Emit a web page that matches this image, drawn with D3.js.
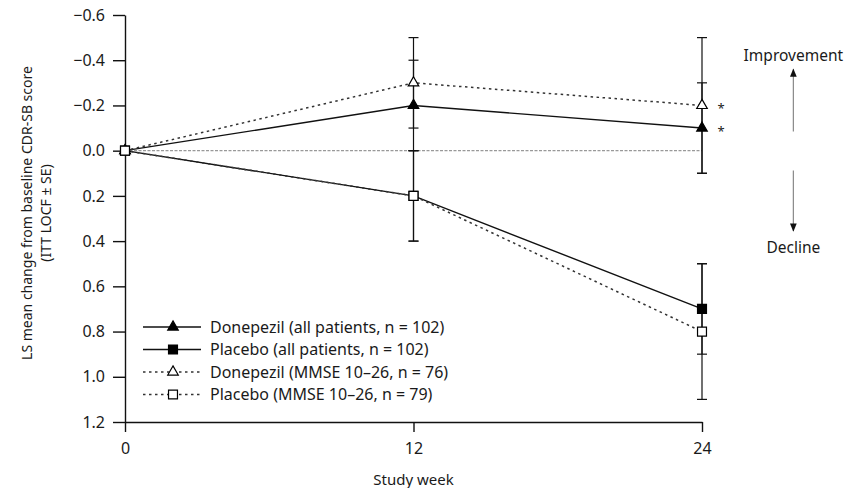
<!DOCTYPE html>
<html>
<head>
<meta charset="utf-8">
<script src="https://cdn.jsdelivr.net/npm/d3@7"></script>
<style>
  body { margin: 0; background: #fff; }
  text { font-family: "Noto Sans", sans-serif; fill: #1a1a1a; }
</style>
</head>
<body>
<svg id="chart" width="854" height="488"></svg>
<script>
// Study weeks on the x axis
const weeks = [0, 12, 24];

// LS mean change from baseline CDR-SB (negative = improvement)
const donepezilAll = [0, -0.2, -0.1];
const donepezilAllSE = [0, 0.2, 0.2];
const placeboAll = [0, 0.2, 0.7];
const placeboAllSE = [0, 0.2, 0.2];
const donepezilMmse = [0, -0.3, -0.2];
const donepezilMmseSE = [0, 0.2, 0.3];
const placeboMmse = [0, 0.2, 0.8];
const placeboMmseSE = [0, 0.2, 0.3];

const seriesNames = [
  "Donepezil (all patients, n = 102)",
  "Placebo (all patients, n = 102)",
  "Donepezil (MMSE 10\u201326, n = 76)",
  "Placebo (MMSE 10\u201326, n = 79)"
];
const yTicks = [-0.6, -0.4, -0.2, 0.0, 0.2, 0.4, 0.6, 0.8, 1.0, 1.2];
const significant = [donepezilMmse[2], donepezilAll[2]]; // asterisks at week 24

// series table built from the arrays above
const series = [
  { name: seriesNames[0], values: donepezilAll, se: donepezilAllSE, shape: d3.symbolTriangle, filled: true, dashed: false },
  { name: seriesNames[1], values: placeboAll, se: placeboAllSE, shape: d3.symbolSquare, filled: true, dashed: false },
  { name: seriesNames[2], values: donepezilMmse, se: donepezilMmseSE, shape: d3.symbolTriangle, filled: false, dashed: true },
  { name: seriesNames[3], values: placeboMmse, se: placeboMmseSE, shape: d3.symbolSquare, filled: false, dashed: true }
];

const svg = d3.select("#chart");

const x = d3.scaleLinear().domain([0, 24]).range([125, 702]);
const y = d3.scaleLinear().domain([-0.6, 1.2]).range([15, 422]);

// axes
const xAxis = svg.append("g")
  .attr("transform", `translate(0,${y(1.2)})`)
  .call(d3.axisBottom(x).tickValues(weeks).tickSize(10).tickSizeOuter(0).tickPadding(11));

const yAxis = svg.append("g")
  .attr("transform", `translate(${x(0)},0)`)
  .call(d3.axisLeft(y).tickValues(yTicks).tickSize(12).tickSizeOuter(0).tickPadding(8)
    .tickFormat(d3.format(".1f")));

[xAxis, yAxis].forEach(a => {
  a.selectAll("path, line").attr("stroke", "#111").attr("stroke-width", 1.4);
  a.selectAll("text").style("font-size", "16px").attr("fill", "#1a1a1a");
});

// axis titles
svg.append("text")
  .attr("x", x(12)).attr("y", 485)
  .attr("text-anchor", "middle")
  .style("font-size", "15px")
  .text("Study week");

const yTitle = svg.append("g").attr("transform", "translate(0,213) rotate(-90)");
yTitle.append("text").attr("x", 0).attr("y", 32)
  .attr("text-anchor", "middle").style("font-size", "14px")
  .text("LS mean change from baseline CDR-SB score");
yTitle.append("text").attr("x", 0).attr("y", 51)
  .attr("text-anchor", "middle").style("font-size", "14px")
  .text("(ITT LOCF \u00b1 SE)");

// zero reference line
svg.append("line")
  .attr("x1", x(0)).attr("x2", x(24))
  .attr("y1", y(0)).attr("y2", y(0))
  .attr("stroke", "#999").attr("stroke-width", 1.2)
  .attr("stroke-dasharray", "3,1.5");

// error bars
const capW = 5;
series.forEach(s => {
  weeks.forEach((w, i) => {
    if (!s.se[i]) return;
    const g = svg.append("g").attr("stroke", "#111").attr("stroke-width", 1.2);
    const lo = s.values[i] - s.se[i], hi = s.values[i] + s.se[i];
    g.append("line").attr("x1", x(w)).attr("x2", x(w)).attr("y1", y(lo)).attr("y2", y(hi));
    [lo, hi].forEach(v => g.append("line")
      .attr("x1", x(w) - capW).attr("x2", x(w) + capW)
      .attr("y1", y(v)).attr("y2", y(v)));
  });
});

// lines
const line = d3.line().x((d, i) => x(weeks[i])).y(d => y(d));
series.forEach(s => {
  svg.append("path")
    .datum(s.values)
    .attr("d", line)
    .attr("fill", "none")
    .attr("stroke", s.dashed ? "#333" : "#111")
    .attr("stroke-width", s.dashed ? 1.5 : 1.4)
    .attr("stroke-dasharray", s.dashed ? "2.5,3.5" : null);
});

// markers (filled first, open on top)
const sym = (shape) => d3.symbol().type(shape).size(shape === d3.symbolTriangle ? 48 : 80)();
series.forEach(s => {
  svg.append("g").selectAll("path")
    .data(s.values)
    .join("path")
    .attr("d", sym(s.shape))
    .attr("transform", (d, i) => `translate(${x(weeks[i])},${y(d)})`)
    .attr("fill", s.filled ? "#000" : "#fff")
    .attr("stroke", "#000")
    .attr("stroke-width", 1.2);
});

// significance asterisks
svg.selectAll(".star")
  .data(significant)
  .join("text")
  .attr("class", "star")
  .attr("x", x(24) + 19)
  .attr("y", d => y(d) + 8)
  .attr("text-anchor", "middle")
  .style("font-size", "13px")
  .text("*");

// legend
const legend = svg.append("g");
series.forEach((s, i) => {
  const ly = 327 + i * 22.5;
  legend.append("line")
    .attr("x1", 143).attr("x2", 201).attr("y1", ly).attr("y2", ly)
    .attr("stroke", s.dashed ? "#333" : "#111")
    .attr("stroke-width", s.dashed ? 1.5 : 1.4)
    .attr("stroke-dasharray", s.dashed ? "2.5,3.5" : null);
  legend.append("path")
    .attr("d", sym(s.shape))
    .attr("transform", `translate(173,${ly})`)
    .attr("fill", s.filled ? "#000" : "#fff")
    .attr("stroke", "#000").attr("stroke-width", 1.2);
  legend.append("text")
    .attr("x", 210).attr("y", ly + 5.5)
    .style("font-size", "16px")
    .text(s.name);
});

// direction annotations on the right
const ax = x(27.8);
const defs = svg.append("defs");
defs.append("marker")
  .attr("id", "head").attr("viewBox", "0 0 10 10")
  .attr("refX", 9).attr("refY", 5)
  .attr("markerWidth", 7).attr("markerHeight", 7)
  .attr("orient", "auto-start-reverse")
  .append("path").attr("d", "M0,1L10,5L0,9Z").attr("fill", "#111");

svg.append("line")
  .attr("x1", ax).attr("x2", ax).attr("y1", y(-0.085)).attr("y2", y(-0.36))
  .attr("stroke", "#888").attr("stroke-width", 1.2).attr("marker-end", "url(#head)");
svg.append("line")
  .attr("x1", ax).attr("x2", ax).attr("y1", y(0.088)).attr("y2", y(0.355))
  .attr("stroke", "#888").attr("stroke-width", 1.2).attr("marker-end", "url(#head)");

svg.append("text")
  .attr("x", ax).attr("y", y(-0.42) + 5.5)
  .attr("text-anchor", "middle").style("font-size", "15.5px")
  .text("Improvement");
svg.append("text")
  .attr("x", ax).attr("y", y(0.43) + 5.5)
  .attr("text-anchor", "middle").style("font-size", "15.5px")
  .text("Decline");
</script>
</body>
</html>
